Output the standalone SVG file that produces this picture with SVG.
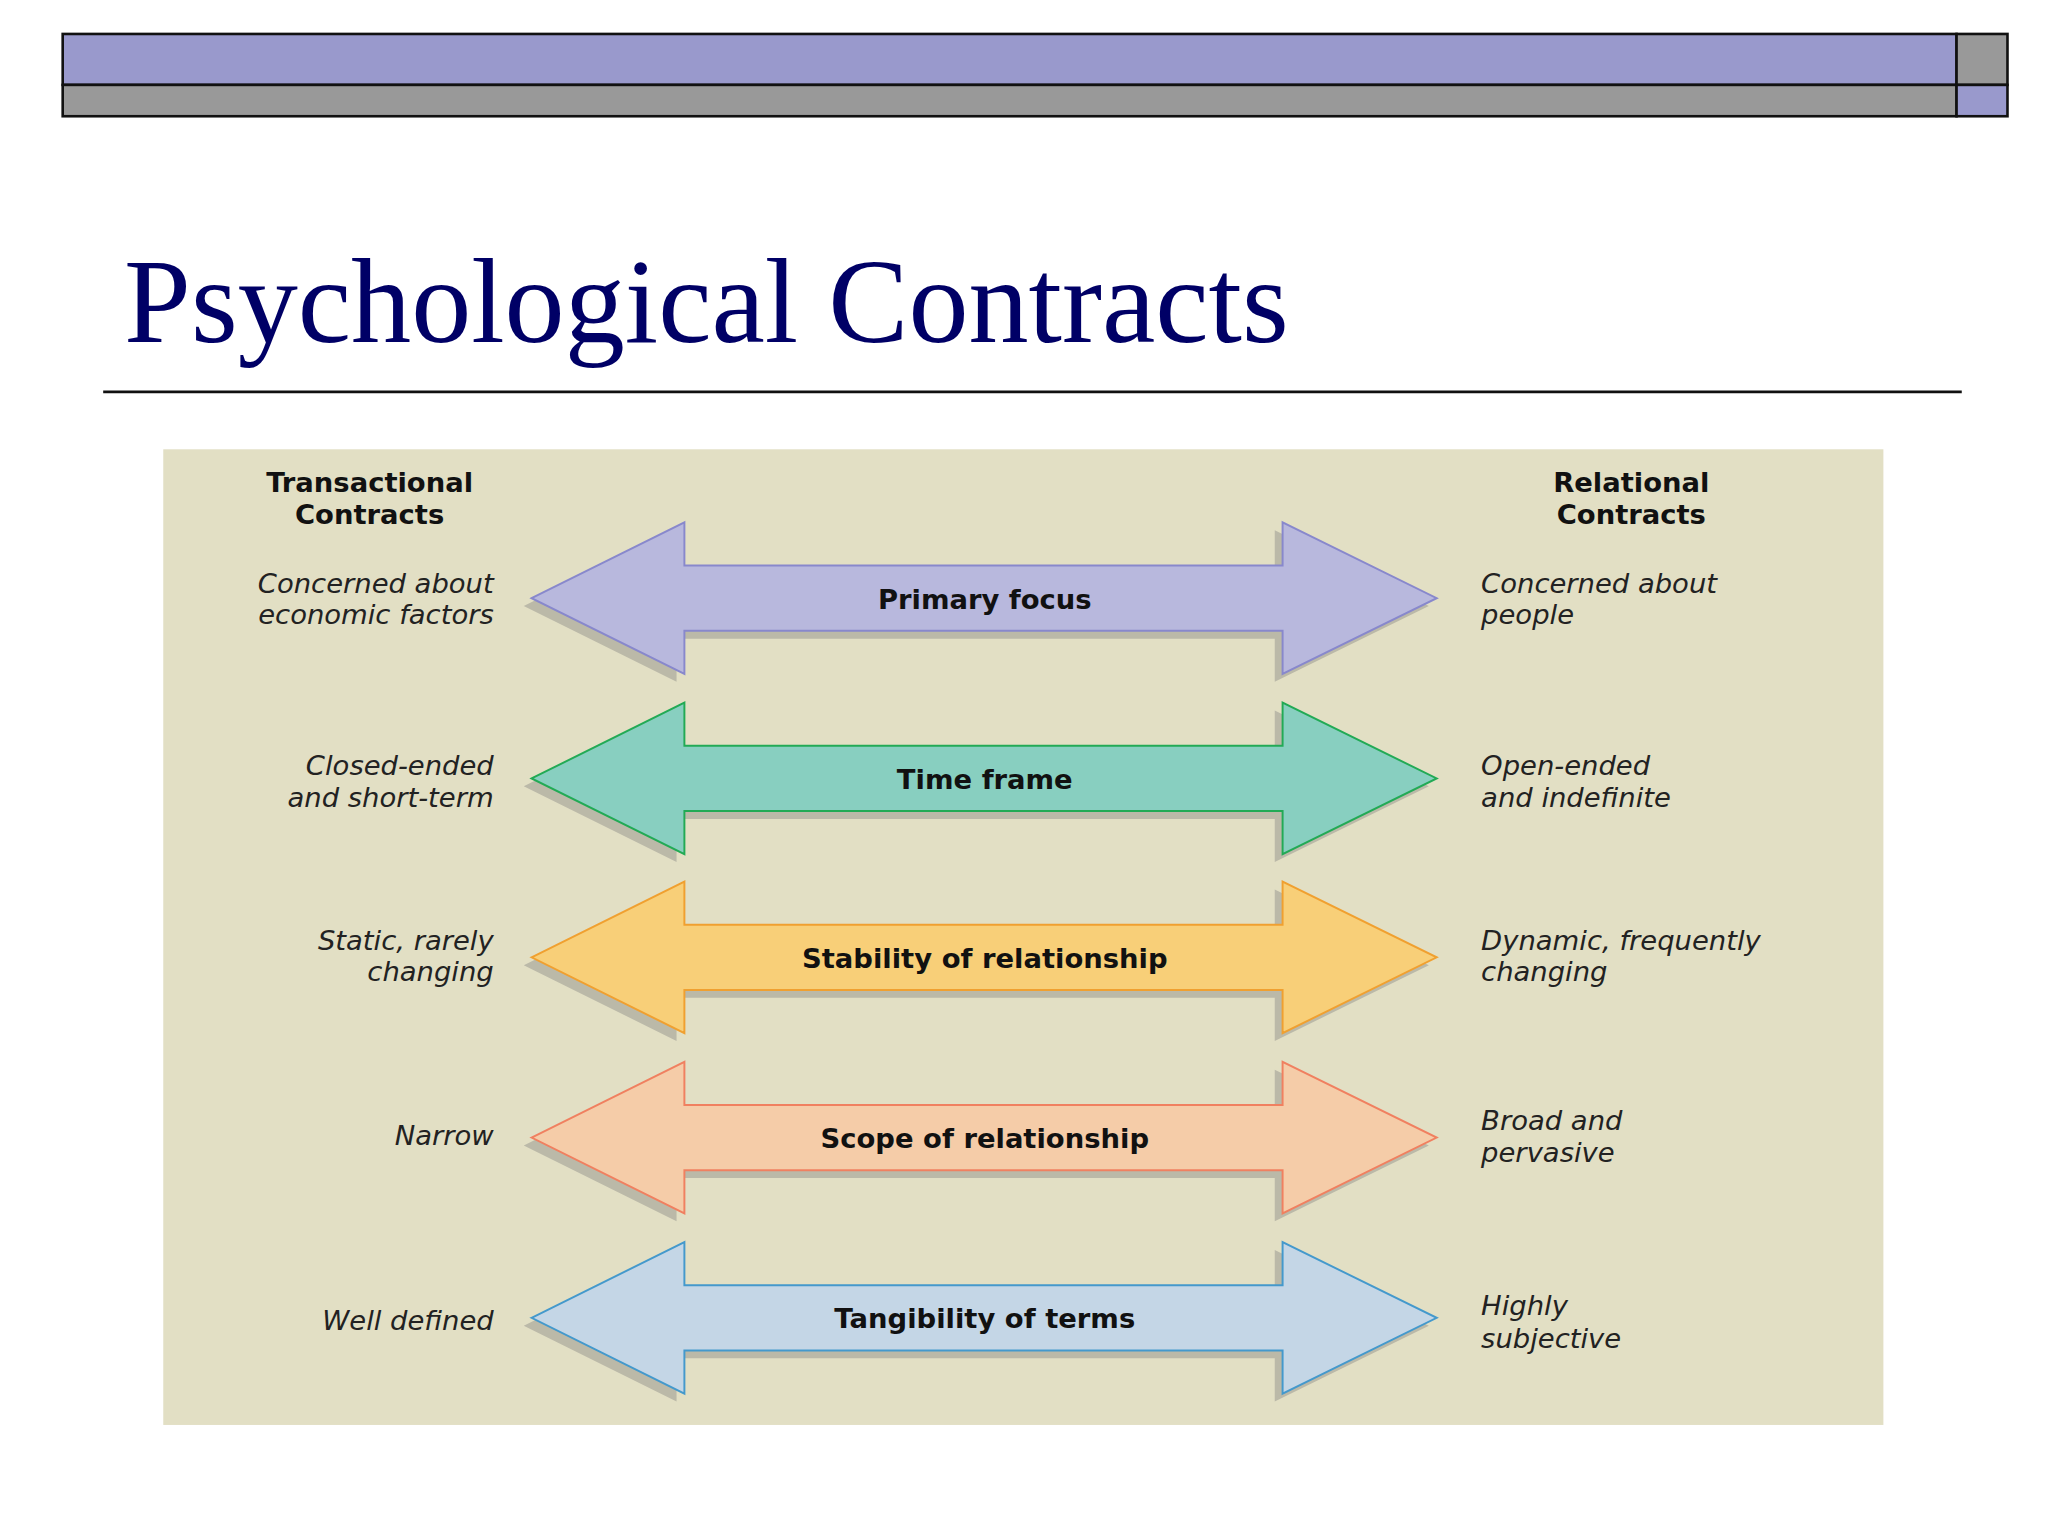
<svg xmlns="http://www.w3.org/2000/svg" width="2048" height="1536" viewBox="0 0 2048 1536">
<style>
.h{font-family:"DejaVu Sans",sans-serif;font-weight:bold;font-size:21px;fill:#111;text-anchor:middle}
.l{font-family:"DejaVu Sans",sans-serif;font-style:italic;font-size:21px;fill:#222;text-anchor:end}
.r{font-family:"DejaVu Sans",sans-serif;font-style:italic;font-size:21px;fill:#222}
.sh{fill:#bbb9a8}
</style>
<defs>
<path id="arr" d="M407,0 L524,-58 L524,-25 L982,-25 L982,-58 L1100,0 L982,58 L982,25 L524,25 L524,58 Z"/>
</defs>
<rect width="2048" height="1536" fill="#fff"/>
<g transform="scale(1.3061)">
<g id="header">
<rect x="48" y="26" width="1450" height="39" fill="#9999cc" stroke="#111" stroke-width="2"/>
<rect x="48" y="65" width="1450" height="24" fill="#999" stroke="#111" stroke-width="2"/>
<rect x="1498" y="26" width="39" height="39" fill="#999" stroke="#111" stroke-width="2"/>
<rect x="1498" y="65" width="39" height="24" fill="#9999cc" stroke="#111" stroke-width="2"/>
<text x="95" y="262" font-family="Liberation Serif,serif" font-size="92" fill="#000066">Psychological Contracts</text>
<line x1="79" y1="300" x2="1502" y2="300" stroke="#111" stroke-width="2"/>
</g>
<rect x="125" y="344" width="1317" height="747" fill="#e2dfc4"/>
<g id="headers">
<text class="h" x="283" y="377">Transactional</text><text class="h" x="283" y="401">Contracts</text>
<text class="h" x="1249" y="377">Relational</text><text class="h" x="1249" y="401">Contracts</text>
</g>
<g id="connectors">
<g id="a1" transform="translate(0,458)"><use href="#arr" class="sh" transform="translate(-6,6)"/><use href="#arr" fill="#b8b8dd" stroke="#8888cc" stroke-width="1.5"/><text class="h" x="754" y="8">Primary focus</text></g>
<g id="a2" transform="translate(0,596)"><use href="#arr" class="sh" transform="translate(-6,6)"/><use href="#arr" fill="#88cfc0" stroke="#22aa55" stroke-width="1.5"/><text class="h" x="754" y="8">Time frame</text></g>
<g id="a3" transform="translate(0,733)"><use href="#arr" class="sh" transform="translate(-6,6)"/><use href="#arr" fill="#f8cf78" stroke="#f0a030" stroke-width="1.5"/><text class="h" x="754" y="8">Stability of relationship</text></g>
<g id="a4" transform="translate(0,871)"><use href="#arr" class="sh" transform="translate(-6,6)"/><use href="#arr" fill="#f5cca8" stroke="#f08060" stroke-width="1.5"/><text class="h" x="754" y="8">Scope of relationship</text></g>
<g id="a5" transform="translate(0,1009)"><use href="#arr" class="sh" transform="translate(-6,6)"/><use href="#arr" fill="#c4d6e6" stroke="#4499cc" stroke-width="1.5"/><text class="h" x="754" y="8">Tangibility of terms</text></g>
</g>
<g id="left">
<text class="l" x="378" y="454">Concerned about</text><text class="l" x="378" y="478">economic factors</text>
<text class="l" x="378" y="593">Closed-ended</text><text class="l" x="378" y="618">and short-term</text>
<text class="l" x="378" y="727">Static, rarely</text><text class="l" x="378" y="751">changing</text>
<text class="l" x="378" y="877">Narrow</text>
<text class="l" x="378" y="1018">Well defined</text>
</g>
<g id="right">
<text class="r" x="1134" y="454">Concerned about</text><text class="r" x="1134" y="478">people</text>
<text class="r" x="1134" y="593">Open-ended</text><text class="r" x="1134" y="618">and indefinite</text>
<text class="r" x="1134" y="727">Dynamic, frequently</text><text class="r" x="1134" y="751">changing</text>
<text class="r" x="1134" y="865">Broad and</text><text class="r" x="1134" y="890">pervasive</text>
<text class="r" x="1134" y="1007">Highly</text><text class="r" x="1134" y="1032">subjective</text>
</g>
</g>
</svg>
